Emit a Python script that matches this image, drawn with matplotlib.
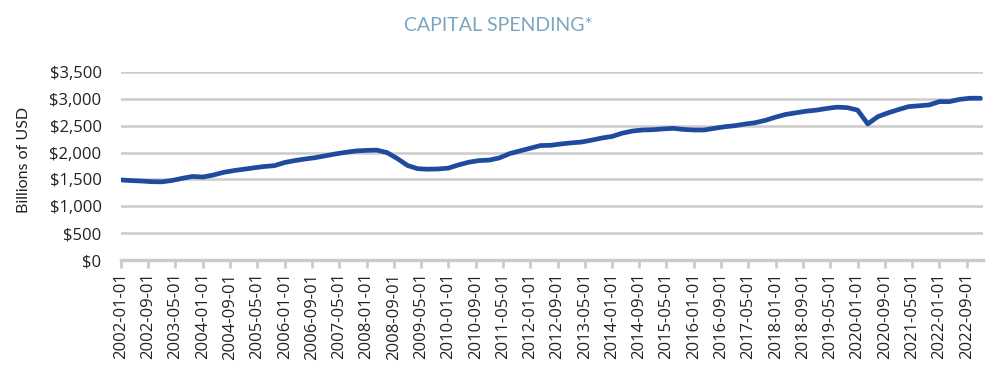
import numpy as np
import pandas as pd
import matplotlib
matplotlib.use("Agg")
import matplotlib.pyplot as plt

# quarterly capital spending, billions of USD
quarters = pd.date_range("2002-01-01", "2023-01-01", freq="QS")
spending = [
    1490, 1478, 1470, 1458,
    1455, 1480, 1520, 1555,
    1545, 1580, 1630, 1663,
    1690, 1715, 1740, 1756,
    1815, 1850, 1880, 1905,
    1940, 1975, 2005, 2030,
    2040, 2045, 2000, 1890,
    1760, 1700, 1690, 1695,
    1710, 1770, 1820, 1850,
    1860, 1900, 1980, 2030,
    2080, 2130, 2135, 2160,
    2180, 2195, 2230, 2270,
    2300, 2360, 2400, 2420,
    2425, 2440, 2450, 2430,
    2420, 2420, 2450, 2480,
    2500, 2530, 2555, 2600,
    2660, 2710, 2740, 2770,
    2790, 2820, 2845, 2836,
    2790, 2533, 2669, 2740,
    2800, 2855, 2870, 2886,
    2948, 2948, 2990, 3011,
    3011,
]
tick_dates = pd.date_range("2002-01-01", "2022-09-01", freq="8MS")
y_ticks = [0, 500, 1000, 1500, 2000, 2500, 3000, 3500]

plt.rcParams['font.family'] = ['Open Sans', 'DejaVu Sans']

fig = plt.figure(figsize=(9.97, 3.91), dpi=100)
ax = fig.add_axes([0.1214, 0.335, 0.8646, 0.481])

ax.plot(quarters, spending, color="#1f4b9e", linewidth=3.4, solid_capstyle="round", zorder=3)

ax.set_ylim(0, 3500)
ax.set_yticks(y_ticks)
ax.set_yticklabels([f"${v:,}" for v in y_ticks])
ax.set_xlim(pd.Timestamp("2002-01-01"), pd.Timestamp("2023-01-25"))
ax.set_xticks(tick_dates)
ax.set_xticklabels([d.strftime("%Y-%m-%d") for d in tick_dates], rotation=90)

ax.grid(axis="y", color="#cccccc", linewidth=1.8)
ax.set_axisbelow(True)
for side in ["left", "right", "top"]:
    ax.spines[side].set_visible(False)
ax.spines["bottom"].set_color("#cccccc")
ax.spines["bottom"].set_linewidth(2.5)
ax.tick_params(axis="x", colors="#cccccc", width=2, length=6, labelcolor="#222222", labelsize=12, pad=3)
ax.tick_params(axis="y", length=0, labelcolor="#222222", labelsize=12, pad=14)

ax.set_ylabel("Billions of USD", fontsize=11.5, color="#222222", family=["Lato", "DejaVu Sans"])
ax.yaxis.set_label_coords(-0.105, 0.53)
fig.text(0.5, 0.935, "CAPITAL SPENDING*", ha="center", va="center",
         fontsize=14, color="#7aa6bf", family=["Lato", "DejaVu Sans"])

fig.savefig("out.png", dpi=100)
